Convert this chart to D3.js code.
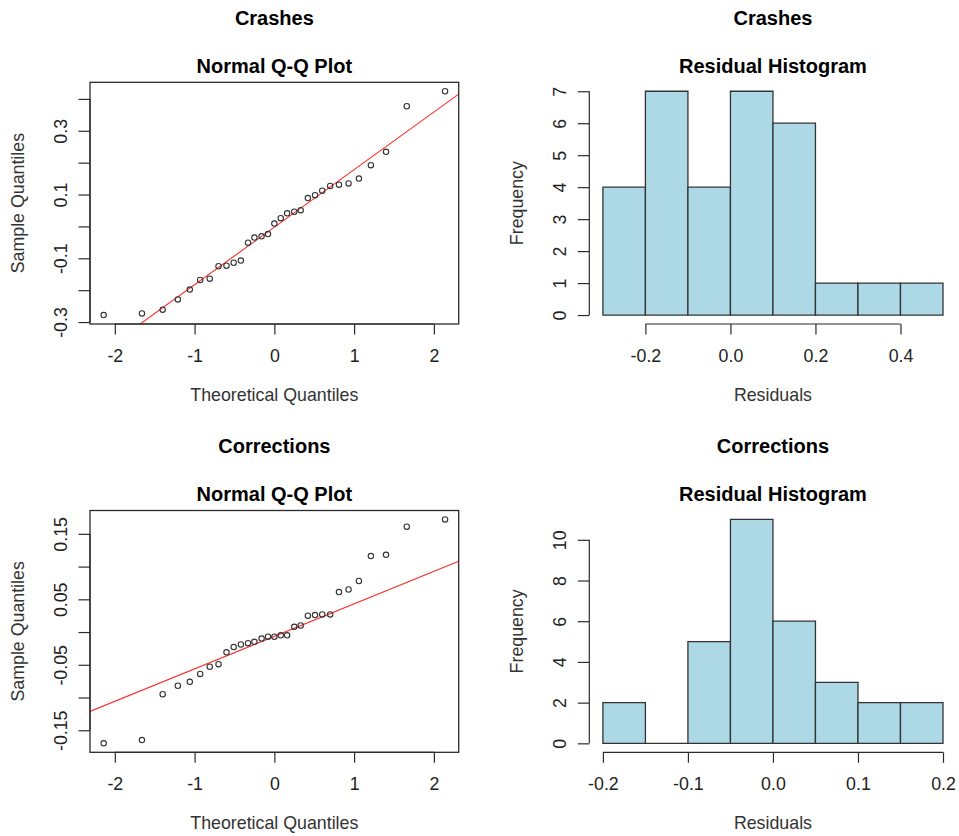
<!DOCTYPE html>
<html>
<head>
<meta charset="utf-8">
<script src="https://cdn.jsdelivr.net/npm/d3@7"></script>
<style>
  body { margin: 0; background: #fff; }
  svg { display: block; font-family: "Liberation Sans", Arial, sans-serif; }
</style>
</head>
<body>
<svg id="chart" width="959" height="836"></svg>
<script>
// theoretical normal quantiles for n = 31
const theoQuantiles = [-2.14, -1.66, -1.40, -1.21, -1.06, -0.93, -0.81, -0.70, -0.60, -0.51, -0.42,
  -0.33, -0.25, -0.16, -0.08, 0, 0.08, 0.16, 0.25, 0.33, 0.42, 0.51, 0.60, 0.70, 0.81, 0.93,
  1.06, 1.21, 1.40, 1.66, 2.14];

// sorted residuals (sample quantiles)
const crashResiduals = [-0.278, -0.273, -0.261, -0.229, -0.198, -0.168, -0.164, -0.125, -0.123, -0.114,
  -0.107, -0.051, -0.035, -0.031, -0.024, 0.009, 0.026, 0.041, 0.046, 0.051, 0.089, 0.098, 0.112,
  0.127, 0.131, 0.135, 0.150, 0.192, 0.234, 0.377, 0.424];
const corrResiduals = [-0.170, -0.165, -0.095, -0.082, -0.076, -0.064, -0.053, -0.049, -0.031, -0.023,
  -0.019, -0.017, -0.015, -0.010, -0.007, -0.007, -0.005, -0.005, 0.008, 0.010, 0.025, 0.026, 0.027,
  0.027, 0.061, 0.065, 0.078, 0.116, 0.118, 0.161, 0.172];

// histogram breaks and counts
const crashBreaks = [-0.3, -0.2, -0.1, 0, 0.1, 0.2, 0.3, 0.4, 0.5];
const crashCounts = [4, 7, 4, 7, 6, 1, 1, 1];
const corrBreaks = [-0.2, -0.15, -0.1, -0.05, 0, 0.05, 0.1, 0.15, 0.2];
const corrCounts = [2, 0, 5, 11, 6, 3, 2, 2];

// tick values and labels
const qqXTicks = [-2, -1, 0, 1, 2];
const crashQQYTicks = [-0.3, -0.2, -0.1, 0, 0.1, 0.2, 0.3, 0.4];
const crashQQYLabels = ["-0.3", "", "-0.1", "", "0.1", "", "0.3", ""];
const corrQQYTicks = [-0.15, -0.10, -0.05, 0, 0.05, 0.10, 0.15];
const corrQQYLabels = ["-0.15", "", "-0.05", "", "0.05", "", "0.15"];
const crashHistXTicks = [-0.2, 0, 0.2, 0.4];
const crashHistXLabels = ["-0.2", "0.0", "0.2", "0.4"];
const crashHistYTicks = [0, 1, 2, 3, 4, 5, 6, 7];
const corrHistXTicks = [-0.2, -0.1, 0, 0.1, 0.2];
const corrHistXLabels = ["-0.2", "-0.1", "0.0", "0.1", "0.2"];
const corrHistYTicks = [0, 2, 4, 6, 8, 10];

const quartileZ = [-0.6745, 0.6745]; // normal quartiles used by qqline

// layout (plot regions)
const rows = [{ top: 82.3, bottom: 324 }, { top: 510.5, bottom: 752.3 }];
const cols = [{ left: 90, right: 458.7 }, { left: 589.3, right: 956.6 }];

const svg = d3.select("#chart");
const ink = "#2b2b2b";

// R style axis range: data range extended by 4% on each side
function pad(ext) {
  const d = (ext[1] - ext[0]) * 0.04;
  return [ext[0] - d, ext[1] + d];
}

function titles(box, outer, main, xLab, yLab) {
  const cx = (box.left + box.right) / 2;
  const cy = (box.top + box.bottom) / 2;
  svg.append("text").attr("x", cx).attr("y", box.top - 57.5)
    .attr("text-anchor", "middle").attr("font-weight", "bold").attr("font-size", 20).attr("fill", "#000")
    .text(outer);
  svg.append("text").attr("x", cx).attr("y", box.top - 9.3)
    .attr("text-anchor", "middle").attr("font-weight", "bold").attr("font-size", 20).attr("fill", "#000")
    .text(main);
  svg.append("text").attr("x", cx).attr("y", box.bottom + 77)
    .attr("text-anchor", "middle").attr("font-size", 17.8).attr("fill", "#333")
    .text(xLab);
  svg.append("text").attr("transform", `translate(${box.left - 66.5},${cy}) rotate(-90)`)
    .attr("text-anchor", "middle").attr("font-size", 17.8).attr("fill", "#333")
    .text(yLab);
}

function axes(box, x, y, xTicks, xLabels, yTicks, yLabels) {
  const gx = svg.append("g").attr("transform", `translate(0,${box.bottom})`)
    .call(d3.axisBottom(x).tickValues(xTicks).tickFormat((d, i) => xLabels[i]).tickSize(10.5));
  const gy = svg.append("g").attr("transform", `translate(${box.left},0)`)
    .call(d3.axisLeft(y).tickValues(yTicks).tickFormat((d, i) => yLabels[i]).tickSize(11.5));

  [gx, gy].forEach(g => {
    g.attr("font-size", null).attr("font-family", null).attr("color", ink);
    g.select(".domain").remove();
    g.selectAll(".tick line").attr("stroke-width", 1.2);
    g.selectAll(".tick text").attr("font-size", 17.8).attr("fill", "#222");
  });
  gx.selectAll(".tick text").attr("y", 37.7).attr("dy", null);
  gy.selectAll(".tick text").attr("x", null).attr("dy", null)
    .attr("text-anchor", "middle").attr("transform", "translate(-23.5,0) rotate(-90)");

  // axis line only spans first to last tick, like R
  gx.append("line").attr("x1", x(xTicks[0])).attr("x2", x(xTicks[xTicks.length - 1]))
    .attr("stroke", ink).attr("stroke-width", 1.2);
  gy.append("line").attr("y1", y(yTicks[0])).attr("y2", y(yTicks[yTicks.length - 1]))
    .attr("stroke", ink).attr("stroke-width", 1.2);
}

function qqPanel(box, id, residuals, outer, yTicks, yLabels) {
  const x = d3.scaleLinear().domain(pad(d3.extent(theoQuantiles))).range([box.left, box.right]);
  const y = d3.scaleLinear().domain(pad(d3.extent(residuals))).range([box.bottom, box.top]);

  svg.append("clipPath").attr("id", id)
    .append("rect").attr("x", box.left).attr("y", box.top)
    .attr("width", box.right - box.left).attr("height", box.bottom - box.top);

  // qqline through the first and third quartiles
  const q1 = d3.quantile(residuals, 0.25), q3 = d3.quantile(residuals, 0.75);
  const slope = (q3 - q1) / (quartileZ[1] - quartileZ[0]);
  const icpt = q1 - slope * quartileZ[0];
  const [x0, x1] = x.domain();
  svg.append("line").attr("clip-path", `url(#${id})`)
    .attr("x1", x(x0)).attr("y1", y(icpt + slope * x0))
    .attr("x2", x(x1)).attr("y2", y(icpt + slope * x1))
    .attr("stroke", "#ff2a2a").attr("stroke-width", 1.1);

  svg.append("g").selectAll("circle")
    .data(residuals)
    .enter().append("circle")
    .attr("cx", (d, i) => x(theoQuantiles[i]))
    .attr("cy", d => y(d))
    .attr("r", 2.7)
    .attr("fill", "none").attr("stroke", "#333").attr("stroke-width", 1.1);

  svg.append("rect").attr("x", box.left).attr("y", box.top)
    .attr("width", box.right - box.left).attr("height", box.bottom - box.top)
    .attr("fill", "none").attr("stroke", ink).attr("stroke-width", 1.3);

  axes(box, x, y, qqXTicks, qqXTicks.map(String), yTicks, yLabels);
  titles(box, outer, "Normal Q-Q Plot", "Theoretical Quantiles", "Sample Quantiles");
}

function histPanel(box, breaks, counts, outer, xTicks, xLabels, yTicks) {
  const x = d3.scaleLinear().domain(pad(d3.extent(breaks))).range([box.left, box.right]);
  const y = d3.scaleLinear().domain(pad([0, d3.max(counts)])).range([box.bottom, box.top]);

  svg.append("g").selectAll("path")
    .data(counts)
    .enter().append("path")
    .attr("d", (d, i) => `M${x(breaks[i])},${y(0)}H${x(breaks[i + 1])}V${y(d)}H${x(breaks[i])}Z`)
    .attr("fill", "#add8e6").attr("stroke", "#333").attr("stroke-width", 1.3);

  axes(box, x, y, xTicks, xLabels, yTicks, yTicks.map(String));
  titles(box, outer, "Residual Histogram", "Residuals", "Frequency");
}

const box = (r, c) => ({ top: rows[r].top, bottom: rows[r].bottom, left: cols[c].left, right: cols[c].right });

qqPanel(box(0, 0), "clipCrash", crashResiduals, "Crashes", crashQQYTicks, crashQQYLabels);
histPanel(box(0, 1), crashBreaks, crashCounts, "Crashes", crashHistXTicks, crashHistXLabels, crashHistYTicks);
qqPanel(box(1, 0), "clipCorr", corrResiduals, "Corrections", corrQQYTicks, corrQQYLabels);
histPanel(box(1, 1), corrBreaks, corrCounts, "Corrections", corrHistXTicks, corrHistXLabels, corrHistYTicks);
</script>
</body>
</html>
